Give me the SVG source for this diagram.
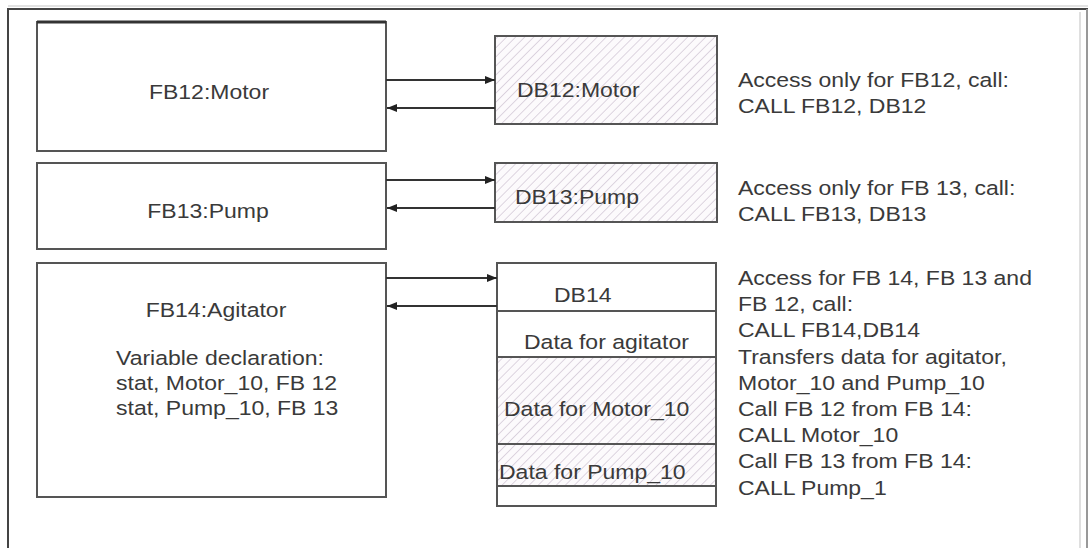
<svg xmlns="http://www.w3.org/2000/svg" width="1088" height="548" viewBox="0 0 1088 548">
<style>
.box{fill:#fff;stroke:#555;stroke-width:2}
.hbox{fill:url(#hatch);stroke:#555;stroke-width:2}
.div{stroke:#555;stroke-width:2}
.t{font-family:"Liberation Sans",Arial,sans-serif;font-size:19.5px;fill:#3a3a3a}
.c{stroke:#333;stroke-width:2;fill:none}
</style>
<defs>
<pattern id="hatch" patternUnits="userSpaceOnUse" width="6.4" height="10" patternTransform="rotate(45)">
<rect width="6.4" height="10" fill="#fcfafc"/>
<line x1="0" y1="0" x2="0" y2="10" stroke="#d3c8d7" stroke-width="1.5"/>
</pattern>
<marker id="ah" markerUnits="userSpaceOnUse" markerWidth="11" markerHeight="9" refX="10" refY="4" orient="auto">
<path d="M0,0 L10,4 L0,8 z" fill="#222"/>
</marker>
</defs>
<rect width="1088" height="548" fill="#fff"/>
<g id="frame">
<line x1="8" y1="6" x2="1088" y2="6" stroke="#e2e2e2" stroke-width="2"/>
<line x1="7" y1="9" x2="1088" y2="9" stroke="#444" stroke-width="2"/>
<line x1="8" y1="9" x2="8" y2="548" stroke="#444" stroke-width="2"/>
<line x1="1080" y1="12" x2="1080" y2="548" stroke="#d4d4d4" stroke-width="1.5"/>
<line x1="1087" y1="9" x2="1087" y2="548" stroke="#999" stroke-width="2"/>
</g>
<g id="fb12">
<rect class="box" x="37" y="22" width="349" height="129"/>
<line x1="37" y1="22" x2="386" y2="22" stroke="#333" stroke-width="3"/>
<text class="t" transform="translate(209 99) scale(1.18 1)" text-anchor="middle">FB12:Motor</text>
</g>
<g id="fb13">
<rect class="box" x="37" y="163" width="349" height="86"/>
<text class="t" transform="translate(208 218) scale(1.18 1)" text-anchor="middle">FB13:Pump</text>
</g>
<g id="fb14">
<rect class="box" x="37" y="263" width="349" height="234"/>
<text class="t" transform="translate(216 317) scale(1.18 1)" text-anchor="middle">FB14:Agitator</text>
<text class="t" transform="translate(116 365) scale(1.18 1)"><tspan x="0" y="0">Variable declaration:</tspan><tspan x="0" y="25">stat, Motor_10, FB 12</tspan><tspan x="0" y="50">stat, Pump_10, FB 13</tspan></text>
</g>
<g id="db12">
<rect class="hbox" x="495" y="36" width="222" height="88"/>
<text class="t" transform="translate(517 97) scale(1.18 1)">DB12:Motor</text>
</g>
<g id="db13">
<rect class="hbox" x="495" y="163" width="222" height="59"/>
<text class="t" transform="translate(515 204) scale(1.18 1)">DB13:Pump</text>
</g>
<g id="db14">
<rect class="box" x="497" y="263" width="219" height="243"/>
<rect x="498" y="357" width="217" height="129" fill="url(#hatch)"/>
<line class="div" x1="497" y1="311" x2="716" y2="311"/>
<line class="div" x1="497" y1="357" x2="716" y2="357"/>
<line class="div" x1="497" y1="444" x2="716" y2="444"/>
<line class="div" x1="497" y1="486" x2="716" y2="486" stroke-width="2.5"/>
<text class="t" transform="translate(554 302) scale(1.18 1)">DB14</text>
<text class="t" transform="translate(524 349) scale(1.18 1)">Data for agitator</text>
<text class="t" transform="translate(504 416) scale(1.18 1)">Data for Motor_10</text>
<text class="t" transform="translate(499 479) scale(1.18 1)">Data for Pump_10</text>
</g>
<g id="notes">
<text class="t" transform="translate(738 87) scale(1.18 1)"><tspan x="0" y="0">Access only for FB12, call:</tspan><tspan x="0" y="26">CALL FB12, DB12</tspan></text>
<text class="t" transform="translate(738 195) scale(1.18 1)"><tspan x="0" y="0">Access only for FB 13, call:</tspan><tspan x="0" y="26">CALL FB13, DB13</tspan></text>
<text class="t" transform="translate(738 285) scale(1.18 1)"><tspan x="0" y="0">Access for FB 14, FB 13 and</tspan><tspan x="0" y="26.2">FB 12, call:</tspan><tspan x="0" y="52.4">CALL FB14,DB14</tspan><tspan x="0" y="78.6">Transfers data for agitator,</tspan><tspan x="0" y="104.8">Motor_10 and Pump_10</tspan><tspan x="0" y="131">Call FB 12 from FB 14:</tspan><tspan x="0" y="157.2">CALL Motor_10</tspan><tspan x="0" y="183.4">Call FB 13 from FB 14:</tspan><tspan x="0" y="209.6">CALL Pump_1</tspan></text>
</g>
<g id="connectors">
<line class="c" x1="386" y1="80" x2="495" y2="80" marker-end="url(#ah)"/>
<line class="c" x1="495" y1="108" x2="387" y2="108" marker-end="url(#ah)"/>
<line class="c" x1="386" y1="180" x2="495" y2="180" marker-end="url(#ah)"/>
<line class="c" x1="495" y1="208" x2="387" y2="208" marker-end="url(#ah)"/>
<line class="c" x1="386" y1="278" x2="497" y2="278" marker-end="url(#ah)"/>
<line class="c" x1="497" y1="306" x2="387" y2="306" marker-end="url(#ah)"/>
</g>
</svg>
